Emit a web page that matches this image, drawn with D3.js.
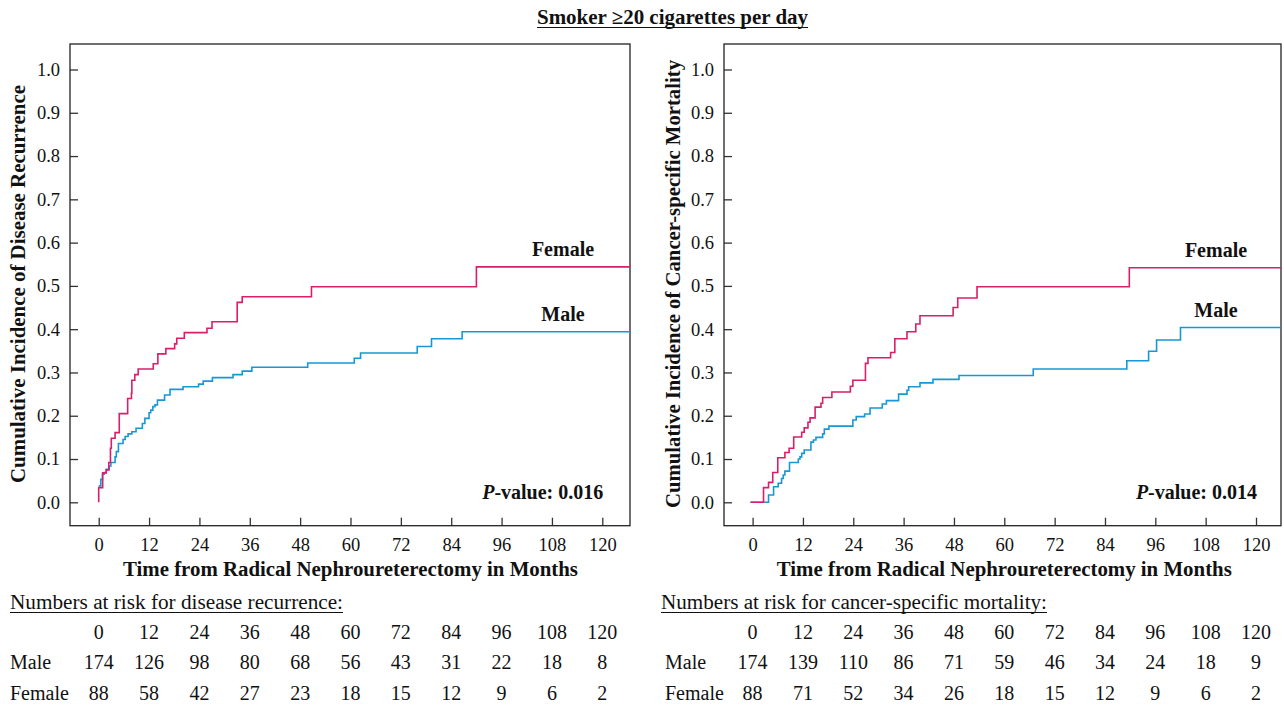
<!DOCTYPE html>
<html><head><meta charset="utf-8">
<script src="https://cdn.jsdelivr.net/npm/d3@7"></script>
<style>
body{margin:0;background:#fff}
svg{display:block}
svg text{font-family:"Liberation Serif","Times New Roman",Times,serif;fill:#111}
</style>
</head><body><svg id="c" width="1284" height="707"></svg>
<script>
// ---------- data ----------
const timeTicks = [0, 12, 24, 36, 48, 60, 72, 84, 96, 108, 120];
const probTicks = [0, 0.1, 0.2, 0.3, 0.4, 0.5, 0.6, 0.7, 0.8, 0.9, 1.0];
const groupNames = ["Male", "Female"];

// Disease recurrence (left panel)
const recurFemaleT = [0, 0, 0.95, 1.8, 2.4, 2.8, 3.0, 3.9, 4.9, 6.9, 7.8, 7.9, 8.6, 9.4, 13.0, 14.1, 16.0, 18.1, 18.6, 20.4, 25.8, 27.0, 33.0, 34.2, 50.7, 90.0, 127];
const recurFemaleV = [0, 0.034, 0.068, 0.075, 0.092, 0.125, 0.148, 0.161, 0.205, 0.240, 0.252, 0.282, 0.295, 0.308, 0.320, 0.343, 0.355, 0.366, 0.379, 0.392, 0.402, 0.417, 0.462, 0.475, 0.498, 0.544, 0.544];
const recurMaleT = [0, 0.5, 0.9, 1.3, 1.8, 2.5, 2.9, 3.9, 4.2, 4.7, 5.8, 6.3, 7.0, 7.9, 8.9, 10.4, 11.0, 12.0, 12.4, 12.9, 13.4, 14.0, 15.7, 17.0, 20.1, 23.8, 24.9, 27.1, 32.0, 34.2, 36.5, 49.8, 60.9, 62.4, 75.9, 79.3, 86.6, 127];
const recurMaleV = [0.038, 0.053, 0.065, 0.069, 0.076, 0.084, 0.092, 0.105, 0.117, 0.136, 0.145, 0.152, 0.158, 0.163, 0.171, 0.182, 0.194, 0.207, 0.213, 0.221, 0.225, 0.236, 0.248, 0.261, 0.267, 0.273, 0.280, 0.288, 0.295, 0.303, 0.312, 0.322, 0.333, 0.345, 0.360, 0.378, 0.394, 0.394];

// Cancer-specific mortality (right panel)
const csmFemaleT = [-0.5, 2.6, 3.8, 4.8, 6.0, 7.7, 8.7, 9.8, 11.7, 12.3, 13.2, 13.7, 14.9, 16.3, 16.7, 18.9, 23.3, 23.9, 26.9, 27.5, 32.9, 33.9, 36.8, 38.9, 39.9, 47.8, 48.9, 53.5, 89.8, 127];
const csmFemaleV = [0, 0.034, 0.046, 0.069, 0.103, 0.115, 0.125, 0.151, 0.162, 0.172, 0.185, 0.195, 0.220, 0.229, 0.242, 0.255, 0.268, 0.282, 0.321, 0.334, 0.346, 0.378, 0.394, 0.412, 0.431, 0.450, 0.472, 0.498, 0.542, 0.542];
const csmMaleT = [-0.5, 3.8, 5.0, 6.1, 6.9, 7.3, 7.7, 8.8, 10.9, 11.3, 11.7, 12.3, 13.9, 14.5, 15.1, 16.7, 17.1, 18.2, 23.9, 24.7, 26.7, 28.0, 30.9, 31.9, 34.8, 36.8, 37.2, 39.9, 43.0, 49.2, 66.9, 89.2, 94.4, 96.3, 102.0, 127];
const csmMaleV = [0, 0.017, 0.036, 0.044, 0.055, 0.063, 0.072, 0.092, 0.100, 0.105, 0.113, 0.121, 0.139, 0.144, 0.150, 0.158, 0.169, 0.176, 0.190, 0.198, 0.204, 0.218, 0.227, 0.235, 0.250, 0.259, 0.267, 0.276, 0.284, 0.293, 0.308, 0.327, 0.349, 0.375, 0.404, 0.404];

// Numbers at risk
const recurRiskMale = [174, 126, 98, 80, 68, 56, 43, 31, 22, 18, 8];
const recurRiskFemale = [88, 58, 42, 27, 23, 18, 15, 12, 9, 6, 2];
const csmRiskMale = [174, 139, 110, 86, 71, 59, 46, 34, 24, 18, 9];
const csmRiskFemale = [88, 71, 52, 34, 26, 18, 15, 12, 9, 6, 2];

const mainTitle = "Smoker \u226520 cigarettes per day";
const xTitle = "Time from Radical Nephroureterectomy in Months";

// ---------- drawing ----------
const FONT = '"Liberation Serif","Times New Roman",Times,serif';
const svg = d3.select("#c");
const RED = "#d81f69", BLUE = "#1798d5";
const FT = 44, FB = 525.7;
const y = d3.scaleLinear().domain([0, 1]).range([502.3, 69.5]);

function txt(g) { return g.append("text").style("font-family", FONT); }

function underlinedText(g, x, yy, str, size, bold, anchor, targetW) {
  const t = txt(g).attr("x", x).attr("y", yy).attr("font-size", size)
    .attr("font-weight", bold ? "bold" : "normal").attr("text-anchor", anchor).text(str);
  if (targetW) t.attr("textLength", targetW).attr("lengthAdjust", "spacingAndGlyphs");
  const w = targetW || t.node().getComputedTextLength();
  const x0 = anchor === "middle" ? x - w / 2 : x;
  g.append("line").attr("x1", x0).attr("x2", x0 + w).attr("y1", yy + 3.5).attr("y2", yy + 3.5)
    .attr("stroke", "#111").attr("stroke-width", 1.1);
}

underlinedText(svg, 672.5, 24, mainTitle, 20, true, "middle", 271);

const panels = [
  { id: "p1", left: 70, right: 630, x0: 98.7, x120: 602.3, yTitle: "Cumulative Incidence of Disease Recurrence",
    yTitleX: 25, yTitleW: 398, fT: recurFemaleT, fV: recurFemaleV, mT: recurMaleT, mV: recurMaleV,
    femaleLab: [563, 256], maleLab: [563, 320.5], pval: "0.016",
    riskTitle: "Numbers at risk for disease recurrence:", riskTitleX: 10, riskTitleW: 333, rowX: 10,
    riskM: recurRiskMale, riskF: recurRiskFemale },
  { id: "p2", left: 724, right: 1281, x0: 752.6, x120: 1256, yTitle: "Cumulative Incidence of Cancer-specific Mortality",
    yTitleX: 680, yTitleW: 448, fT: csmFemaleT, fV: csmFemaleV, mT: csmMaleT, mV: csmMaleV,
    femaleLab: [1216, 257.3], maleLab: [1216, 317.3], pval: "0.014",
    riskTitle: "Numbers at risk for cancer-specific mortality:", riskTitleX: 661, riskTitleW: 386, rowX: 665,
    riskM: csmRiskMale, riskF: csmRiskFemale }
];

panels.forEach(p => {
  const x = d3.scaleLinear().domain([0, 120]).range([p.x0, p.x120]);
  const g = svg.append("g");

  svg.append("clipPath").attr("id", "clip-" + p.id).append("rect")
    .attr("x", p.left).attr("y", FT).attr("width", p.right - p.left).attr("height", FB - FT);

  const ya = g.append("g").attr("transform", `translate(${p.left},0)`)
    .call(d3.axisLeft(y).tickValues(probTicks).tickFormat(d3.format(".1f")).tickSize(-8).tickPadding(10));
  const xa = g.append("g").attr("transform", `translate(0,${FB})`)
    .call(d3.axisBottom(x).tickValues(timeTicks).tickSize(-8).tickPadding(12.5));
  [ya, xa].forEach(a => {
    a.attr("font-family", null).attr("font-size", null);
    a.select(".domain").remove();
    a.selectAll(".tick line").attr("stroke", "#333").attr("stroke-width", 1.3);
    a.selectAll(".tick text").attr("font-size", 18.5).style("font-family", FONT).attr("fill", "#111");
  });

  g.append("rect").attr("x", p.left).attr("y", FT).attr("width", p.right - p.left).attr("height", FB - FT)
    .attr("fill", "none").attr("stroke", "#222").attr("stroke-width", 1.3);

  const line = d3.line().x(d => x(d[0])).y(d => y(d[1])).curve(d3.curveStepAfter);
  const series = [
    { T: p.mT, V: p.mV, c: BLUE },
    { T: p.fT, V: p.fV, c: RED }
  ];
  series.forEach(s => {
    g.append("path").attr("clip-path", `url(#clip-${p.id})`)
      .attr("d", line(d3.zip(s.T, s.V))).attr("fill", "none").attr("stroke", s.c).attr("stroke-width", 1.6);
  });

  txt(g).attr("x", p.femaleLab[0]).attr("y", p.femaleLab[1]).attr("text-anchor", "middle")
    .attr("font-size", 20).attr("font-weight", "bold").text(groupNames[1]);
  txt(g).attr("x", p.maleLab[0]).attr("y", p.maleLab[1]).attr("text-anchor", "middle")
    .attr("font-size", 20).attr("font-weight", "bold").text(groupNames[0]);

  const pv = txt(g).attr("x", x(120) + 1).attr("y", 499.3).attr("text-anchor", "end")
    .attr("font-size", 20).attr("font-weight", "bold");
  pv.append("tspan").attr("font-style", "italic").text("P");
  pv.append("tspan").text("-value: " + p.pval);

  txt(g).attr("x", (x(0) + x(120)) / 2).attr("y", 576).attr("text-anchor", "middle")
    .attr("font-size", 20.5).attr("font-weight", "bold")
    .attr("textLength", 455).attr("lengthAdjust", "spacingAndGlyphs").text(xTitle);
  txt(g).attr("transform", `translate(${p.yTitleX},284) rotate(-90)`).attr("text-anchor", "middle")
    .attr("font-size", 20).attr("font-weight", "bold")
    .attr("textLength", p.yTitleW).attr("lengthAdjust", "spacingAndGlyphs").text(p.yTitle);

  underlinedText(g, p.riskTitleX, 609, p.riskTitle, 20, false, "start", p.riskTitleW);
  const rows = [
    { label: null, vals: timeTicks, yy: 638.5 },
    { label: groupNames[0], vals: p.riskM, yy: 669 },
    { label: groupNames[1], vals: p.riskF, yy: 700 }
  ];
  rows.forEach(r => {
    if (r.label) txt(g).attr("x", p.rowX).attr("y", r.yy).attr("font-size", 20).text(r.label);
    g.selectAll(null).data(r.vals).enter().append("text").style("font-family", FONT)
      .attr("x", (d, i) => x(timeTicks[i])).attr("y", r.yy).attr("text-anchor", "middle")
      .attr("font-size", 20).text(d => d);
  });
});
</script>
</body></html>
